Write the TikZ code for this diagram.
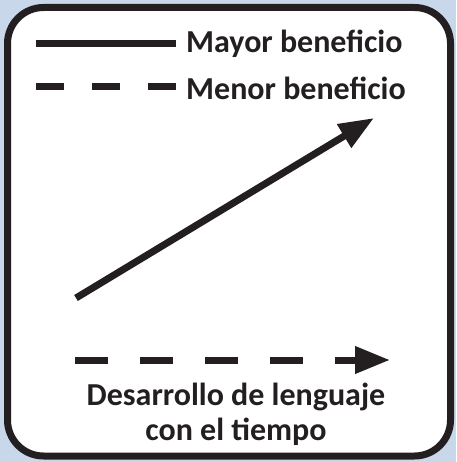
\documentclass[tikz,border=0pt]{standalone}
\usepackage{fontspec}
\setmainfont{Carlito}
\usetikzlibrary{arrows.meta}
\definecolor{ink}{HTML}{231F20}
\definecolor{bgblue}{HTML}{C8D8EA}
\begin{document}
\begin{tikzpicture}[x=1pt,y=-1pt,
  lbl/.style={inner sep=0pt, text=ink, font=\fontsize{32}{38}\selectfont\bfseries},
  thick line/.style={draw=ink, line width=7pt},
  bighead/.style={-{Triangle[length=35pt,width=26pt]}}]
\fill[bgblue] (0,0) rectangle (456,462);
\useasboundingbox (0,0) rectangle (456,462);
\draw[ink, line width=7pt, rounded corners=36pt, fill=white] (7.5,7.5) rectangle (450.5,456);
% legend
\coordinate (s1) at (35.5,44);
\coordinate (s2) at (176,44);
\coordinate (d1) at (35.5,86.5);
\coordinate (d2) at (176,86.5);
\draw[thick line] (s1) -- (s2);
\draw[thick line, dash pattern=on 28pt off 28pt] (d1) -- (d2);
\node[lbl, anchor=base west] (mayor) at (186,53) {Mayor beneficio};
\node[lbl, anchor=base west] (menor) at (186,100) {Menor beneficio};
% diagonal arrow
\coordinate (a1) at (76,298);
\coordinate (a2) at (374,118);
\draw[thick line, bighead] (a1) -- (a2);
% bottom dashed arrow
\coordinate (b1) at (75,360);
\coordinate (b2) at (390,360);
\draw[thick line, bighead, dash pattern=on 33pt off 32pt] (b1) -- (b2);
\node[lbl, anchor=base] (l1) at (236,405) {Desarrollo de lenguaje};
\node[lbl, anchor=base] (l2) at (236,440) {con el tiempo};
\end{tikzpicture}
\end{document}
